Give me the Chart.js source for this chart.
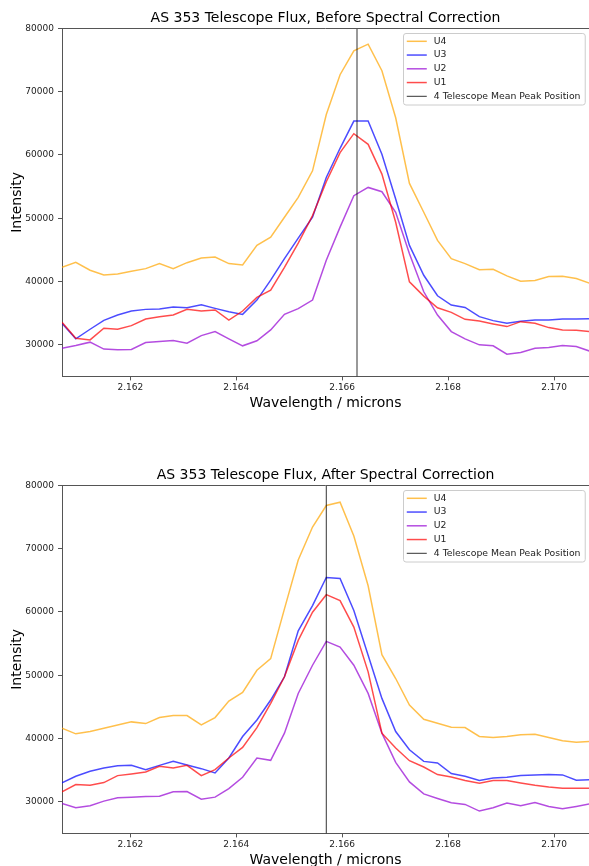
<!DOCTYPE html>
<html>
<head>
<meta charset="utf-8">
<script src="https://cdn.jsdelivr.net/npm/chart.js@4"></script>
<style>
  body { margin: 0; width: 589px; height: 866px; overflow: hidden; background: #fff; position: relative; }
  .panel { position: absolute; left: 0; width: 589px; height: 416px; }
</style>
</head>
<body>
<div class="panel" style="top:0px"><canvas id="before"></canvas></div>
<div class="panel" style="top:457px"><canvas id="after"></canvas></div>
<script>
// Wavelength grid (microns), shared by both panels
const wavelengths = [
  2.16071, 2.16097, 2.16124, 2.16150, 2.16176, 2.16202, 2.16229, 2.16255, 2.16281, 2.16307,
  2.16334, 2.16360, 2.16386, 2.16412, 2.16439, 2.16465, 2.16491, 2.16517, 2.16544, 2.16570,
  2.16596, 2.16622, 2.16649, 2.16675, 2.16701, 2.16727, 2.16754, 2.16780, 2.16806, 2.16832,
  2.16859, 2.16885, 2.16911, 2.16937, 2.16964, 2.16990, 2.17016, 2.17042, 2.17069,
];

const seriesLabels = ["U4", "U3", "U2", "U1"];

// Before spectral correction
const beforeU4 = [42240, 43030, 41770, 41040, 41190, 41610, 42030, 42820, 42030, 42970, 43710, 43860, 42820, 42610, 45700, 47000, 50150, 53290,
  57480, 66380, 72670, 76440, 77490, 73300, 65860, 55490, 50930, 46480, 43600, 42820, 41870, 41920, 40880, 40040, 40150, 40770, 40830, 40460, 39680];
const beforeU3 = [33390, 30930, 32450, 33860, 34700, 35330, 35590, 35640, 35960, 35850, 36320, 35750, 35220, 34800, 37060, 40200, 43600, 46850,
  50150, 56430, 61040, 65340, 65340, 60100, 53030, 45700, 40980, 37740, 36270, 35900, 34440, 33810, 33390, 33700, 33910, 33910, 34070, 34070, 34120];
const beforeU2 = [29460, 29880, 30410, 29310, 29200, 29250, 30350, 30510, 30670, 30250, 31450, 32080, 30930, 29830, 30620, 32340, 34800, 35700,
  37060, 43340, 48580, 53550, 54860, 54180, 50930, 44390, 38370, 34700, 32080, 30930, 29990, 29830, 28520, 28780, 29460, 29570, 29880, 29720, 28940];
const beforeU1 = [33550, 31030, 30770, 32600, 32450, 33020, 34070, 34440, 34700, 35590, 35330, 35490, 33910, 35330, 37480, 38630, 42240, 46060,
  50410, 55750, 60360, 63350, 61670, 56960, 49360, 39940, 37690, 35850, 35120, 34020, 33760, 33290, 32870, 33650, 33390, 32710, 32340, 32290, 32080];
const beforePeak = 2.16628;

// After spectral correction
const afterU4 = [41620, 40730, 41100, 41620, 42140, 42620, 42350, 43300, 43610, 43610, 42140, 43300, 45910, 47280, 50780, 52620, 60470, 68200,
  73400, 76810, 77330, 71990, 64130, 53240, 49470, 45280, 43030, 42410, 41780, 41730, 40310, 40150, 40310, 40570, 40680, 40150, 39630, 39420, 39530];
const afterU3 = [32980, 34030, 34810, 35340, 35700, 35750, 35070, 35750, 36380, 35800, 35230, 34550, 36910, 40310, 42930, 46070, 49740, 57000,
  60990, 65440, 65290, 60210, 53140, 46330, 41100, 38220, 36380, 36120, 34450, 34030, 33350, 33770, 33870, 34130, 34240, 34290, 34240, 33400, 33500];
const afterU2 = [29730, 29050, 29370, 30100, 30620, 30730, 30830, 30880, 31570, 31620, 30410, 30730, 32090, 33870, 36910, 36540, 40840, 47100,
  51570, 55340, 54450, 51570, 47120, 40840, 36230, 33140, 31250, 30520, 29840, 29580, 28530, 29050, 29790, 29370, 29890, 29260, 28900, 29260, 29680];
const afterU1 = [31570, 32720, 32610, 33030, 34130, 34390, 34710, 35600, 35340, 35760, 34130, 35070, 36910, 38580, 41720, 45550, 49740, 55500,
  59950, 62720, 61780, 57590, 50520, 40840, 38480, 36490, 35490, 34290, 33920, 33350, 32930, 33350, 33350, 32980, 32610, 32350, 32140, 32140, 32140];
const afterPeak = 2.16570;

const xTicks = [2.162, 2.164, 2.166, 2.168, 2.170];
const yTicks = [30000, 40000, 50000, 60000, 70000, 80000];

// Styling
const seriesColors = [
  "rgba(255, 165, 0, 0.7)",
  "rgba(0, 0, 255, 0.7)",
  "rgba(148, 0, 211, 0.7)",
  "rgba(255, 0, 0, 0.7)",
];
const peakColor = "rgba(0, 0, 0, 0.8)";
const spineColor = "#555";
const textColor = "#222";

Chart.defaults.font.family = "'DejaVu Sans', sans-serif";

const toPoints = (vals) => wavelengths.map((w, i) => ({ x: w, y: vals[i] }));

// top spine + matplotlib-style legend box in the upper right
const frameAndLegend = {
  id: "frameAndLegend",
  afterDraw(chart) {
    const { ctx, chartArea: a } = chart;
    ctx.save();
    ctx.strokeStyle = spineColor;
    ctx.lineWidth = 1;
    ctx.beginPath();
    ctx.moveTo(a.left, Math.round(a.top) + 0.5);
    ctx.lineTo(a.right, Math.round(a.top) + 0.5);
    ctx.stroke();

    const items = chart.data.datasets;
    ctx.font = "9.3px 'DejaVu Sans', sans-serif";
    const textW = Math.max(...items.map((d) => ctx.measureText(d.label).width));
    const rowH = 13.75;
    const boxW = 30.5 + textW + 4.5;
    const boxH = 8 + rowH * (items.length - 1) + 8.5;
    const boxR = a.right - 4;
    const boxL = boxR - boxW;
    const boxT = a.top + 5;

    ctx.fillStyle = "rgba(255,255,255,0.8)";
    ctx.strokeStyle = "#cccccc";
    ctx.beginPath();
    ctx.roundRect(Math.round(boxL) + 0.5, Math.round(boxT) + 0.5, boxW, boxH, 2.5);
    ctx.fill();
    ctx.stroke();

    ctx.textBaseline = "middle";
    ctx.textAlign = "left";
    items.forEach((d, i) => {
      const y = boxT + 8 + i * rowH;
      ctx.strokeStyle = d.borderColor;
      ctx.lineWidth = d.borderWidth;
      ctx.beginPath();
      ctx.moveTo(boxL + 3.5, y);
      ctx.lineTo(boxL + 23.5, y);
      ctx.stroke();
      ctx.fillStyle = textColor;
      ctx.fillText(d.label, boxL + 30.5, y);
    });
    ctx.restore();
  },
};

const buildPanel = (canvasId, title, series, peak) => {
  const datasets = series.map((vals, i) => ({
    label: seriesLabels[i],
    data: toPoints(vals),
    borderColor: seriesColors[i],
    borderWidth: 1.5,
    order: 4 - i,
  }));
  datasets.push({
    label: "4 Telescope Mean Peak Position",
    data: [{ x: peak, y: 25000 }, { x: peak, y: 80000 }],
    borderColor: peakColor,
    borderWidth: 1,
    order: 0,
  });

  return new Chart(document.getElementById(canvasId), {
    type: "line",
    data: { datasets },
    plugins: [frameAndLegend],
    options: {
      responsive: true,
      maintainAspectRatio: false,
      animation: false,
      layout: { padding: 0 },
      elements: { point: { radius: 0 }, line: { tension: 0 } },
      plugins: {
        legend: { display: false },
        tooltip: { enabled: false },
        title: {
          display: true,
          text: title,
          fullSize: false,
          color: "#000",
          font: { size: 14, weight: "normal" },
          padding: { top: 10, bottom: 1.5 },
        },
      },
      scales: {
        x: {
          type: "linear",
          min: 2.16071,
          max: 2.17066,
          afterBuildTicks: (axis) => { axis.ticks = xTicks.map((v) => ({ value: v })); },
          ticks: { color: textColor, font: { size: 9 }, padding: 2, maxRotation: 0, autoSkip: false, callback: (v) => v.toFixed(3) },
          grid: { display: true, drawOnChartArea: false, drawTicks: true, tickLength: 4, color: spineColor },
          border: { display: true, color: spineColor, width: 1 },
          title: { display: true, text: "Wavelength / microns", color: "#000", font: { size: 14 }, padding: { top: 0, bottom: 4 } },
        },
        y: {
          type: "linear",
          min: 25000,
          max: 80000,
          afterBuildTicks: (axis) => { axis.ticks = yTicks.map((v) => ({ value: v })); },
          afterFit: (axis) => { axis.width = 62; },
          ticks: { color: textColor, font: { size: 9 }, padding: 4, callback: (v) => String(v) },
          grid: { display: true, drawOnChartArea: false, drawTicks: true, tickLength: 4, color: spineColor },
          border: { display: true, color: spineColor, width: 1 },
          title: { display: true, text: "Intensity", color: "#000", font: { size: 14 }, padding: { top: 9, bottom: 0 } },
        },
      },
    },
  });
};

buildPanel("before", "AS 353 Telescope Flux, Before Spectral Correction",
  [beforeU4, beforeU3, beforeU2, beforeU1], beforePeak);
buildPanel("after", "AS 353 Telescope Flux, After Spectral Correction",
  [afterU4, afterU3, afterU2, afterU1], afterPeak);
</script>
</body>
</html>
